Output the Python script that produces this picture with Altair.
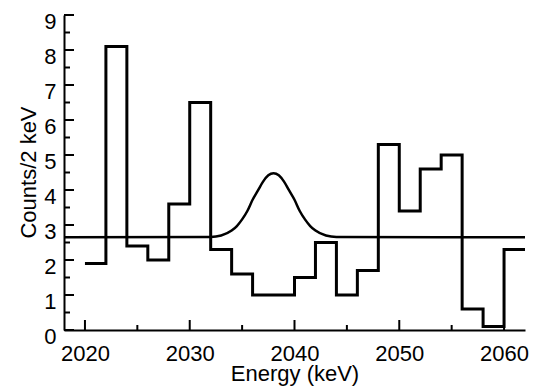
import altair as alt
import pandas as pd

# Histogram: left bin edges (keV) and counts per 2 keV
bin_left = [2020, 2022, 2024, 2026, 2028, 2030, 2032, 2034, 2036, 2038, 2040,
            2042, 2044, 2046, 2048, 2050, 2052, 2054, 2056, 2058, 2060, 2062]
counts = [1.9, 8.1, 2.4, 2.0, 3.6, 6.5, 2.3, 1.6, 1.0, 1.0, 1.5,
          2.5, 1.0, 1.7, 5.3, 3.4, 4.6, 5.0, 0.6, 0.1, 2.3, 2.3]

# Fitted curve (background + peak)
curve_x = [2018, 2032, 2033, 2034, 2034.5, 2035, 2035.5, 2036, 2036.5, 2037, 2037.5,
           2038, 2038.5, 2039, 2039.5, 2040, 2040.5, 2041, 2041.5, 2042, 2043, 2044, 2062]
curve_y = [2.65, 2.66, 2.70, 2.84, 2.97, 3.16, 3.40, 3.72, 3.98, 4.24, 4.42,
           4.48, 4.42, 4.24, 3.98, 3.72, 3.40, 3.16, 2.97, 2.84, 2.70, 2.66, 2.65]

x_major = [2020, 2030, 2040, 2050, 2060]
x_minor = [2025, 2035, 2045, 2055]
y_major = [0, 1, 2, 3, 4, 5, 6, 7, 8, 9]
y_minor = [0.5, 1.5, 2.5, 3.5, 4.5, 5.5, 6.5, 7.5, 8.5]

FONT = "Liberation Sans"
W, H = 461, 315

hist_df = pd.DataFrame({"e": bin_left, "c": counts})
curve_df = pd.DataFrame({"e": curve_x, "c": curve_y})

xscale = alt.Scale(domain=[2018, 2062], nice=False, zero=False)
yscale = alt.Scale(domain=[0, 9], nice=False)

xaxis = alt.Axis(values=x_major, format="d", labelPadding=13, labelBaseline="top",
                 title="Energy (keV)", titleBaseline="alphabetic", titleY=50)
yaxis = alt.Axis(values=y_major, labelPadding=8, labelBaseline="middle",
                 labelOffset=6, title="Counts/2 keV",
                 titleBaseline="alphabetic", titleX=-29, titleY=157, titleAngle=-90)

X = lambda f: alt.X(f, scale=xscale, axis=xaxis)
Y = lambda f: alt.Y(f, scale=yscale, axis=yaxis)

hist = alt.Chart(hist_df).mark_line(interpolate="step-after", color="black",
                                    strokeWidth=3).encode(x=X("e:Q"), y=Y("c:Q"))

curve = alt.Chart(curve_df).mark_line(interpolate="monotone", color="black",
                                      strokeWidth=2.5).encode(x=X("e:Q"), y=Y("c:Q"))

xmaj = alt.Chart(pd.DataFrame({"v": x_major})).mark_rule(color="black", strokeWidth=2).encode(
    x=X("v:Q"), y=alt.value(H), y2=alt.value(H - 10))
xmin = alt.Chart(pd.DataFrame({"v": x_minor})).mark_rule(color="black", strokeWidth=2).encode(
    x=X("v:Q"), y=alt.value(H), y2=alt.value(H - 5))
ymaj = alt.Chart(pd.DataFrame({"v": y_major})).mark_rule(color="black", strokeWidth=2).encode(
    y=Y("v:Q"), x=alt.value(0), x2=alt.value(10))
ymin = alt.Chart(pd.DataFrame({"v": y_minor})).mark_rule(color="black", strokeWidth=2).encode(
    y=Y("v:Q"), x=alt.value(0), x2=alt.value(6))

chart = alt.layer(hist, curve, xmaj, xmin, ymaj, ymin).properties(
    width=W, height=H,
    autosize=alt.AutoSizeParams(type="none"),
    padding={"left": 64, "top": 15, "right": 12, "bottom": 56},
    background="white",
).configure_view(stroke=None).configure_axis(
    ticks=False, tickSize=0, grid=False,
    domainColor="black", domainWidth=2,
    labelFont=FONT, labelFontSize=22, labelColor="black", labelOverlap=False,
    labelFlush=False,
    titleFont=FONT, titleFontSize=22, titleFontWeight="normal", titleColor="black",
)

chart.save("out.html", embed_options={"renderer": "svg", "actions": False})
